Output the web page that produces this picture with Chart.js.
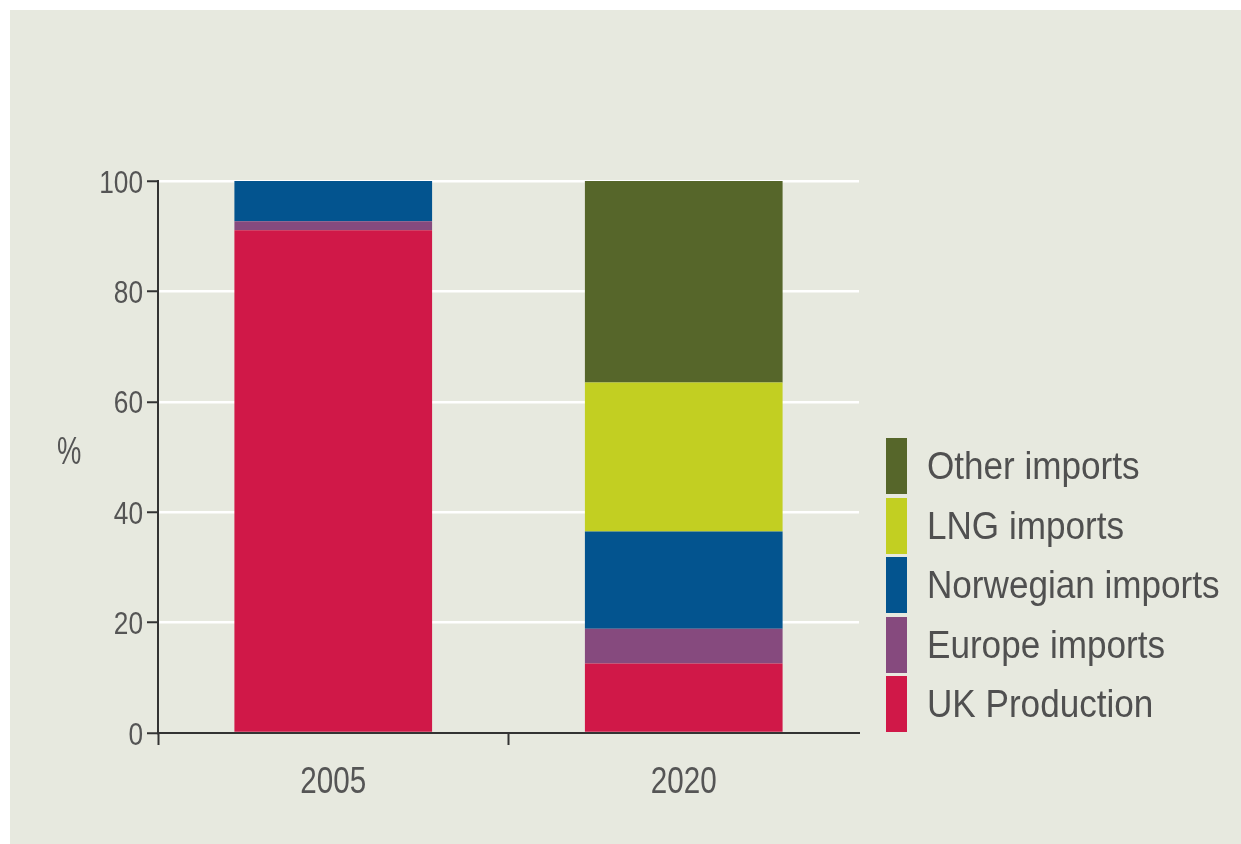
<!DOCTYPE html>
<html>
<head>
<meta charset="utf-8">
<script src="https://cdn.jsdelivr.net/npm/chart.js@4.4.1/dist/chart.umd.min.js"></script>
<style>
  html, body { margin: 0; padding: 0; background: #ffffff; }
  #wrap { position: relative; width: 1241px; height: 844px; overflow: hidden; }
  #panel { position: absolute; left: 10px; top: 10px; width: 1231px; height: 834px; background: #e7e9df; }
  #c { position: absolute; left: 0; top: 0; }
  #ytitle { position: absolute; left: 57px; top: 432px; font: 38px 'Liberation Sans', Arial, sans-serif; line-height: 1; color: #555; transform: scaleX(0.72); transform-origin: left top; }
  #legend { position: absolute; left: 886px; top: 438px; }
  .item { display: flex; align-items: center; height: 56px; margin-bottom: 3.5px; }
  .box { width: 21px; height: 56px; flex: none; }
  .lbl { margin-left: 20px; font: 39px 'Liberation Sans', Arial, sans-serif; color: #505050; white-space: nowrap; transform: scaleX(0.9); transform-origin: left center; }
</style>
</head>
<body>
<div id="wrap">
  <div id="panel"></div>
  <canvas id="c" width="1241" height="844"></canvas>
  <div id="ytitle">%</div>
  <div id="legend"></div>
</div>
<script>
// ---- data ----
const categories = ['2005', '2020'];
const ukProduction     = [91.1, 12.6];
const europeImports    = [1.6, 6.3];
const norwegianImports = [7.3, 17.6];
const lngImports       = [0, 27.0];
const otherImports     = [0, 36.5];
const seriesNames  = ['UK Production', 'Europe imports', 'Norwegian imports', 'LNG imports', 'Other imports'];
const seriesColors = ['#d01848', '#864a7e', '#03548f', '#c2cf22', '#56662a'];
const yTicks = [0, 20, 40, 60, 80, 100];

const seriesValues = [ukProduction, europeImports, norwegianImports, lngImports, otherImports];
const FONT = "'Liberation Sans', Arial, sans-serif";

const datasets = seriesNames.map((name, i) => ({
  label: name,
  data: seriesValues[i],
  backgroundColor: seriesColors[i],
  borderWidth: 0,
  barPercentage: 0.564,
  categoryPercentage: 1.0
}));

// Draws the scale tick labels (from the library's own ticks/pixels) in a condensed face
const condensedTickLabels = {
  id: 'condensedTickLabels',
  afterDraw(chart) {
    const ctx = chart.ctx;
    const xs = chart.scales.x, ys = chart.scales.y;
    ctx.save();
    ctx.fillStyle = '#555555';
    ctx.textBaseline = 'alphabetic';
    // x labels
    ctx.font = '37.5px ' + FONT;
    ctx.textAlign = 'center';
    xs.ticks.forEach((t, i) => {
      const x = xs.getPixelForTick(i);
      ctx.save();
      ctx.translate(x, xs.top + 60);
      ctx.scale(0.79, 1);
      ctx.fillText(xs.getLabelForValue(t.value), 0, 0);
      ctx.restore();
    });
    // y labels
    ctx.font = '32px ' + FONT;
    ctx.textAlign = 'right';
    ys.ticks.forEach((t, i) => {
      const y = ys.getPixelForTick(i);
      ctx.save();
      ctx.translate(ys.right - 15, y + 11.5);
      ctx.scale(0.82, 1);
      ctx.fillText(String(t.value), 0, 0);
      ctx.restore();
    });
    ctx.restore();
  }
};

const chart = new Chart(document.getElementById('c'), {
  type: 'bar',
  data: { labels: categories, datasets },
  options: {
    responsive: false,
    animation: false,
    layout: { padding: { left: 0, top: 181, right: 382, bottom: 0 } },
    plugins: { legend: { display: false }, tooltip: { enabled: false } },
    scales: {
      x: {
        stacked: true,
        offset: true,
        afterFit: s => { s.height = 111; },
        grid: {
          offset: true,
          drawOnChartArea: false,
          drawTicks: true,
          tickLength: 12,
          tickWidth: 2,
          tickColor: c => (c.type === 'scale' ? 'rgba(0,0,0,0)' : '#333333')
        },
        border: { display: true, color: '#333333', width: 2 },
        ticks: { display: false }
      },
      y: {
        stacked: true,
        min: 0,
        max: 100,
        afterFit: s => { s.width = 158; },
        afterBuildTicks: s => { s.ticks = yTicks.map(v => ({ value: v })); },
        grid: {
          color: c => (c.tick && c.tick.value === 0 ? 'rgba(0,0,0,0)' : '#ffffff'),
          lineWidth: 2.5,
          drawTicks: true,
          tickLength: 11,
          tickWidth: 2,
          tickColor: '#333333'
        },
        border: { display: true, color: '#333333', width: 2 },
        ticks: { display: false }
      }
    }
  },
  plugins: [condensedTickLabels]
});

// HTML legend built from the chart's datasets, top item = last series
const legend = document.getElementById('legend');
chart.data.datasets.slice().reverse().forEach(ds => {
  const item = document.createElement('div');
  item.className = 'item';
  const box = document.createElement('div');
  box.className = 'box';
  box.style.background = ds.backgroundColor;
  const lbl = document.createElement('span');
  lbl.className = 'lbl';
  lbl.textContent = ds.label;
  item.appendChild(box);
  item.appendChild(lbl);
  legend.appendChild(item);
});
</script>
</body>
</html>
